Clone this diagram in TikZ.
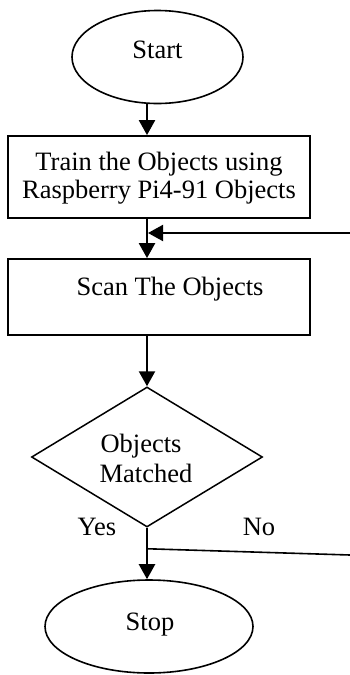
\documentclass[tikz,border=0pt]{standalone}
\usepackage{fontspec}
\setmainfont{Liberation Serif}
\usetikzlibrary{shapes.geometric,arrows.meta}
\begin{document}
\begin{tikzpicture}[x=1pt,y=-1pt,
  every node/.style={font=\fontsize{26.5}{32}\selectfont},
  term/.style={draw,ellipse,line width=1.6pt,inner sep=0pt},
  procbox/.style={draw,rectangle,line width=1.8pt,inner sep=0pt,minimum width=302pt},
  decide/.style={draw,diamond,line width=1.5pt,inner sep=0pt,minimum width=231pt,minimum height=140pt},
  txt/.style={anchor=base,inner sep=0pt},
  arr/.style={line width=2.4pt,-{Triangle[length=15pt,width=16pt]}},
  thin/.style={line width=1.6pt}]
\useasboundingbox (0,0) rectangle (350,675);
% shapes
\node[term,minimum width=171pt,minimum height=93pt] (start) at (157.5,57) {};
\node[procbox,minimum height=82pt] (box1) at (159,177) {};
\node[procbox,minimum height=76pt] (box2) at (159,297) {};
\node[decide] (d) at (147,457) {};
\node[term,minimum width=208pt,minimum height=93pt] (stop) at (149,626.5) {};
% texts
\node[txt] (tstart) at (157.5,58) {Start};
\node[txt] (t1a) at (159,170) {Train the Objects using};
\node[txt] (t1b) at (159,198) {Raspberry Pi4-91 Objects};
\node[txt] (t2) at (170,295) {Scan The Objects};
\node[txt] (t3a) at (141,452) {Objects};
\node[txt] (t3b) at (146,482) {Matched};
\node[txt] (yes) at (97,535) {Yes};
\node[txt] (no) at (259,535) {No};
\node[txt] (tstop) at (150,630) {Stop};
% connectors
\coordinate (fb) at (350,233);
\coordinate (nr) at (350,555);
\path (d.south) ++(0,21) coordinate (j);
\draw[arr] (start.south -| d.north) -- (box1.north -| d.north);
\draw[arr] (box1.south -| d.north) -- (box2.north -| d.north);
\draw[arr,line width=2pt] (fb) -- ([xshift=1pt]fb -| d.north);
\draw[arr] (box2.south -| d.north) -- (d.north);
\draw[arr] (d.south) -- (d.south |- stop.north);
\draw[thin] (j) -- (nr);
\end{tikzpicture}
\end{document}
